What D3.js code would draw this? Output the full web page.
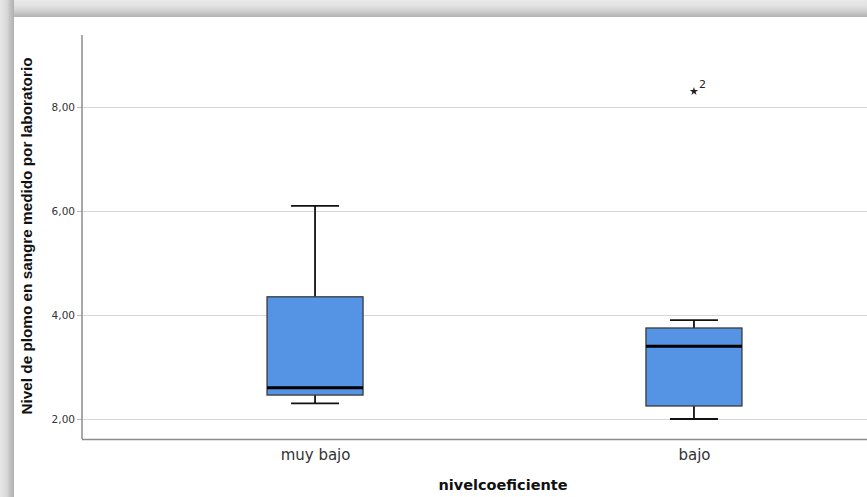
<!DOCTYPE html>
<html>
<head>
<meta charset="utf-8">
<script src="https://cdn.jsdelivr.net/npm/d3@7"></script>
<style>
  html, body { margin: 0; padding: 0; background: #ffffff; }
  svg { display: block; }
</style>
</head>
<body>
<svg id="chart" width="867" height="497"></svg>
<script>
// Box-plot summaries per group
const categories = ["muy bajo", "bajo"];
const whiskerLow  = [2.30, 2.00];
const q1          = [2.46, 2.25];
const median      = [2.60, 3.40];
const q3          = [4.35, 3.75];
const whiskerHigh = [6.10, 3.90];
// Extreme values (case number, value, group index)
const extremeCase  = [2];
const extremeValue = [8.30];
const extremeGroup = [1];

const yTicks = [2, 4, 6, 8];
const yTitle = "Nivel de plomo en sangre medido por laboratorio";
const xTitle = "nivelcoeficiente";

(function draw() {
  const svg = d3.select("#chart");
  const W = 867, H = 497;

  // Window frame with soft shadow along the top and left edges
  const defs = svg.append("defs");
  const gTop = defs.append("linearGradient").attr("id", "shTop").attr("x1", 0).attr("y1", 0).attr("x2", 0).attr("y2", 1);
  gTop.append("stop").attr("offset", "0%").attr("stop-color", "#e8e8e8");
  gTop.append("stop").attr("offset", "35%").attr("stop-color", "#e2e2e2");
  gTop.append("stop").attr("offset", "65%").attr("stop-color", "#cfcfcf");
  gTop.append("stop").attr("offset", "100%").attr("stop-color", "#b2b2b2");
  const gLeft = defs.append("linearGradient").attr("id", "shLeft").attr("x1", 0).attr("y1", 0).attr("x2", 1).attr("y2", 0);
  gLeft.append("stop").attr("offset", "0%").attr("stop-color", "#e8e8e8");
  gLeft.append("stop").attr("offset", "50%").attr("stop-color", "#d8d8d8");
  gLeft.append("stop").attr("offset", "70%").attr("stop-color", "#c4c4c4");
  gLeft.append("stop").attr("offset", "100%").attr("stop-color", "#b0b0b0");

  svg.append("rect").attr("x", 0).attr("y", 0).attr("width", W).attr("height", H).attr("fill", "#ffffff");
  svg.append("rect").attr("x", 0).attr("y", 0).attr("width", W).attr("height", 17).attr("fill", "url(#shTop)");
  svg.append("rect").attr("x", 0).attr("y", 0).attr("width", 14).attr("height", H).attr("fill", "url(#shLeft)");
  svg.append("rect").attr("x", 14).attr("y", 17).attr("width", W - 14).attr("height", H - 17).attr("fill", "#ffffff");

  // Plot area
  const plotLeft = 82, plotBottom = 439, plotTop = 35, plotRight = 927;
  const y = d3.scaleLinear().domain([1.615, 9.385]).range([plotBottom, plotTop]);
  const x = d3.scalePoint().domain(categories).range([plotLeft, plotRight]).padding(0.615);

  const boxHalf = 48, capHalf = 24;

  // Gridlines
  svg.append("g").selectAll("line").data(yTicks).join("line")
    .attr("x1", plotLeft).attr("x2", W)
    .attr("y1", d => Math.round(y(d)) + 0.5).attr("y2", d => Math.round(y(d)) + 0.5)
    .attr("stroke", "#d6d6d6").attr("stroke-width", 1.2);

  // Y axis
  const yAxis = d3.axisLeft(y).tickValues(yTicks).tickSize(5).tickPadding(2)
    .tickFormat(d => d3.format(".2f")(d).replace(".", ","));
  const gy = svg.append("g").attr("transform", `translate(${plotLeft},0)`).call(yAxis);
  gy.select(".domain").remove();
  gy.selectAll(".tick line").attr("stroke", "#bdbdbd");
  gy.selectAll(".tick text").attr("font-family", "DejaVu Sans, sans-serif")
    .attr("font-size", 10.5).attr("fill", "#333333");
  svg.append("line").attr("x1", plotLeft).attr("x2", plotLeft).attr("y1", plotTop).attr("y2", plotBottom)
    .attr("stroke", "#8c8c8c").attr("stroke-width", 1.5);

  // X axis
  const xAxis = d3.axisBottom(x).tickSize(0).tickPadding(10);
  const gx = svg.append("g").attr("transform", `translate(0,${plotBottom})`).call(xAxis);
  gx.select(".domain").remove();
  gx.selectAll(".tick text").attr("font-family", "DejaVu Sans, sans-serif")
    .attr("font-size", 15).attr("fill", "#333333");
  svg.append("line").attr("x1", plotLeft).attr("x2", W).attr("y1", plotBottom + 0.5).attr("y2", plotBottom + 0.5)
    .attr("stroke", "#8c8c8c").attr("stroke-width", 1.5);

  // Boxes
  const idx = d3.range(categories.length);
  const boxes = svg.append("g").selectAll("g").data(idx).join("g");

  boxes.append("line")
    .attr("x1", i => x(categories[i])).attr("x2", i => x(categories[i]))
    .attr("y1", i => y(whiskerHigh[i])).attr("y2", i => y(q3[i]))
    .attr("stroke", "#111").attr("stroke-width", 1.8);
  boxes.append("line")
    .attr("x1", i => x(categories[i])).attr("x2", i => x(categories[i]))
    .attr("y1", i => y(q1[i])).attr("y2", i => y(whiskerLow[i]))
    .attr("stroke", "#111").attr("stroke-width", 1.8);
  boxes.append("line")
    .attr("x1", i => x(categories[i]) - capHalf).attr("x2", i => x(categories[i]) + capHalf)
    .attr("y1", i => y(whiskerHigh[i])).attr("y2", i => y(whiskerHigh[i]))
    .attr("stroke", "#111").attr("stroke-width", 1.8);
  boxes.append("line")
    .attr("x1", i => x(categories[i]) - capHalf).attr("x2", i => x(categories[i]) + capHalf)
    .attr("y1", i => y(whiskerLow[i])).attr("y2", i => y(whiskerLow[i]))
    .attr("stroke", "#111").attr("stroke-width", 1.8);
  boxes.append("rect")
    .attr("x", i => x(categories[i]) - boxHalf).attr("width", boxHalf * 2)
    .attr("y", i => y(q3[i])).attr("height", i => y(q1[i]) - y(q3[i]))
    .attr("fill", "#5593e4").attr("stroke", "#3a3a3a").attr("stroke-width", 1.3);
  boxes.append("line")
    .attr("x1", i => x(categories[i]) - boxHalf).attr("x2", i => x(categories[i]) + boxHalf)
    .attr("y1", i => y(median[i])).attr("y2", i => y(median[i]))
    .attr("stroke", "#000").attr("stroke-width", 3);

  // Extreme values
  const ext = svg.append("g").selectAll("g").data(d3.range(extremeValue.length)).join("g")
    .attr("transform", i => `translate(${x(categories[extremeGroup[i]])},${y(extremeValue[i])})`);
  ext.append("path").attr("d", d3.symbol(d3.symbolStar, 22)).attr("fill", "#222");
  ext.append("text").attr("x", 5).attr("y", -3)
    .attr("font-family", "DejaVu Sans, sans-serif").attr("font-size", 11).attr("fill", "#222")
    .text(i => extremeCase[i]);

  // Axis titles
  svg.append("text")
    .attr("transform", `translate(32,236) rotate(-90)`)
    .attr("text-anchor", "middle")
    .attr("font-family", "Liberation Sans, Arial, sans-serif").attr("font-weight", "bold")
    .attr("font-size", 15.3).attr("fill", "#111")
    .text(yTitle);
  svg.append("text")
    .attr("x", 503).attr("y", 490)
    .attr("text-anchor", "middle")
    .attr("font-family", "DejaVu Sans, sans-serif").attr("font-weight", "bold")
    .attr("font-size", 14.5).attr("fill", "#111")
    .text(xTitle);
})();
</script>
</body>
</html>
